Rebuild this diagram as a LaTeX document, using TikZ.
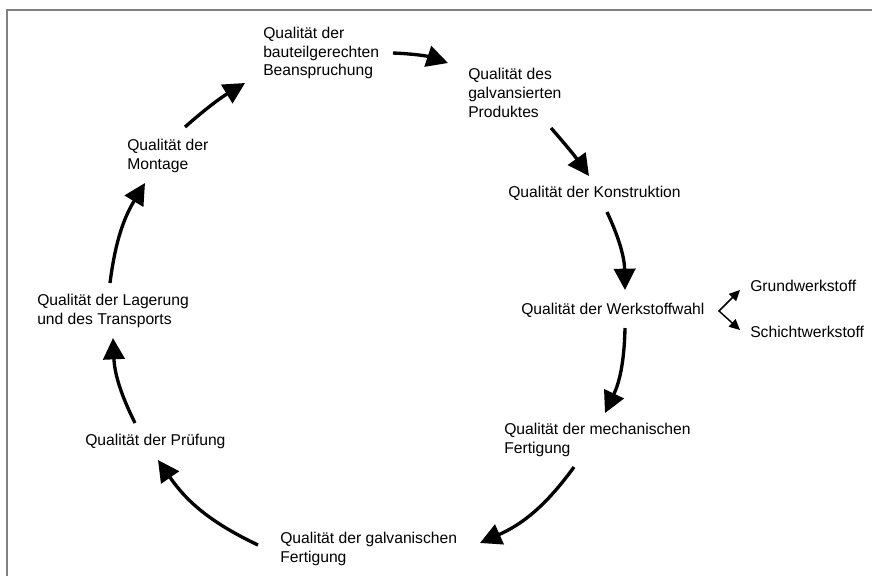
\documentclass[tikz,border=0pt]{standalone}
\usepackage{fontspec}
\setmainfont{Liberation Sans}
\usepackage{tikz}
\usetikzlibrary{arrows.meta}
\usetikzlibrary{calc}
\usepackage{xcolor}

\begin{document}
\begin{tikzpicture}[x=0.75pt,y=0.75pt,
txt/.style={anchor=west, align=left, inner sep=0pt, font=\fontsize{11.75}{14}\selectfont},
flow/.style={line width=2.5pt, -{Triangle[length=16pt,width=16pt]}},
branch/.style={line width=1.1pt, {Triangle[length=8pt,width=7.5pt]}-{Triangle[length=8pt,width=7.5pt]}}
]
\useasboundingbox (0,0) rectangle (872,-576);
\draw[gray, line width=1.5pt] (7,-576) |- (872,-10);
\node[txt](bau) at (263,-53) {Qualität der\\bauteilgerechten\\Beanspruchung};
\node[txt](gal) at (468,-93) {Qualität des\\galvansierten\\Produktes};
\node[txt](kon) at (508,-193) {Qualität der Konstruktion};
\node[txt](wst) at (521,-310) {Qualität der Werkstoffwahl};
\node[txt](grund) at (750,-286) {Grundwerkstoff};
\node[txt](schicht) at (750,-332) {Schichtwerkstoff};
\node[txt](mech) at (504,-440) {Qualität der mechanischen\\Fertigung};
\node[txt](galv) at (280,-549) {Qualität der galvanischen\\Fertigung};
\node[txt](pruef) at (85,-441) {Qualität der Prüfung};
\node[txt](lager) at (37,-311) {Qualität der Lagerung\\und des Transports};
\node[txt](mont) at (127,-156) {Qualität der\\Montage};
% cycle
\draw[flow] ($(mont.west)+(58,29)$) to[bend left=5] ($(bau.west)+(-18,-30)$);
\draw[flow] ($(bau.west)+(130,0)$) to[bend left=8] ($(gal.west)+(-20,30)$);
\draw[flow] ($(gal.west)+(83,-35)$) to[bend left=3] ($(kon.west)+(81,17)$);
\draw[flow] ($(kon.west)+(99,-19)$) to[bend left=12] ($(wst.west)+(104,20)$);
\draw[flow] ($(wst.west)+(104,-18)$) to[bend left=12] ($(mech.west)+(101,27)$);
\draw[flow] ($(mech.west)+(70,-27)$) to[bend left=15] ($(galv.west)+(200,6)$);
\draw[flow] ($(galv.west)+(-22,4)$) to[bend left=15] ($(pruef.west)+(73,-19)$);
\draw[flow] ($(pruef.west)+(50,18)$) to[bend left=12] ($(lager.west)+(76,-27)$);
\draw[flow] ($(lager.west)+(73,28)$) to[bend left=12] ($(mont.west)+(18,-27)$);
% Werkstoffwahl
\draw[branch] ($(grund.west)+(-10,-4)$) -- ($(wst.west)+(198,-1)$) -- ($(schicht.west)+(-10,2)$);
\end{tikzpicture}
\end{document}
